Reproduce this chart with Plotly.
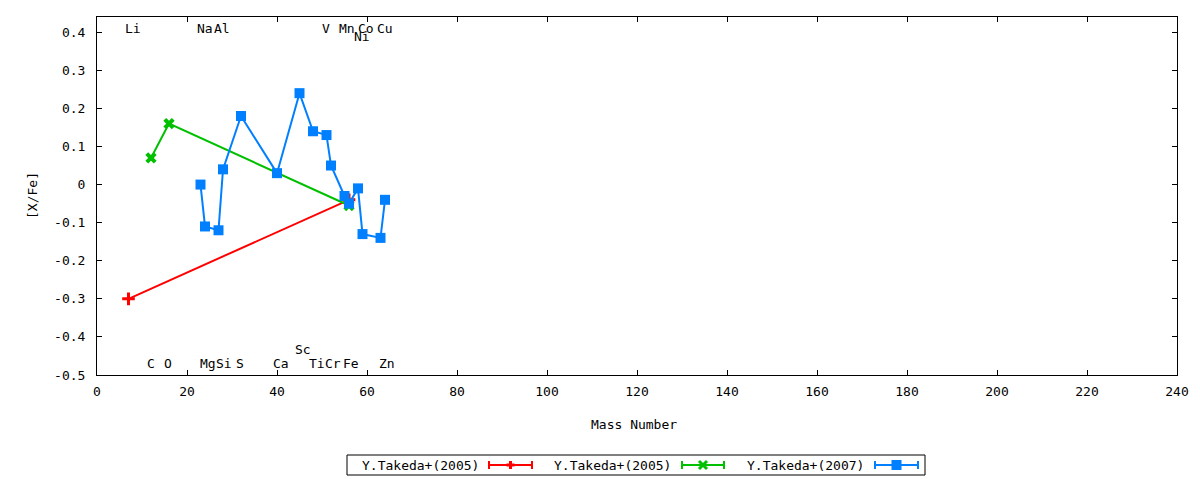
import plotly.graph_objects as go

# ---------------- data ----------------
red_mass = [7, 56]
red_xfe = [-0.30, -0.04]

green_mass = [12, 16, 56]
green_xfe = [0.07, 0.16, -0.055]

blue_mass = [23, 24, 27, 28, 32, 40, 45, 48, 51, 52, 55, 56, 58, 59, 63, 64]
blue_xfe = [0.00, -0.11, -0.12, 0.04, 0.18, 0.03, 0.24, 0.14, 0.13, 0.05,
            -0.03, -0.05, -0.01, -0.13, -0.14, -0.04]

series_names = ["Y.Takeda+(2005)", "Y.Takeda+(2005)", "Y.Takeda+(2007)"]

label_text = ["Li", "Na", "Al", "V", "Mn", "Co", "Cu", "Ni",
              "C", "O", "Mg", "Si", "S", "Ca", "Sc", "Ti", "Cr", "Fe", "Zn"]
label_x = [8.0, 23.9, 27.8, 50.8, 55.5, 59.8, 64.0, 58.9,
           12.0, 15.8, 24.6, 28.2, 31.8, 40.8, 45.7, 48.9, 52.4, 56.4, 64.5]
label_y = [0.41, 0.41, 0.41, 0.41, 0.41, 0.41, 0.41, 0.388,
           -0.471, -0.471, -0.471, -0.471, -0.471, -0.471, -0.434, -0.471, -0.471, -0.471, -0.471]

x_ticks = list(range(0, 241, 20))
x_ticktext = [str(v) for v in x_ticks]
y_ticks = [-0.5, -0.4, -0.3, -0.2, -0.1, 0, 0.1, 0.2, 0.3, 0.4]
y_ticktext = ["-0.5", "-0.4", "-0.3", "-0.2", "-0.1", "0", "0.1", "0.2", "0.3", "0.4"]

# ---------------- style ----------------
FONT = "DejaVu Sans Mono"
RED, GREEN, BLUE = "#ff0000", "#00c000", "#0080ff"
W, H = 1200, 480
L, R, T, B = 97, 23, 17, 105
PW, PH = W - L - R, H - T - B

fig = go.Figure()
fig.add_trace(go.Scatter(x=red_mass, y=red_xfe, mode="lines+markers", name=series_names[0],
                         line=dict(color=RED, width=2),
                         marker=dict(symbol="cross-thin", size=9, line=dict(color=RED, width=3))))
fig.add_trace(go.Scatter(x=green_mass, y=green_xfe, mode="lines+markers", name=series_names[1],
                         line=dict(color=GREEN, width=2),
                         marker=dict(symbol="x", size=10, color=GREEN)))
fig.add_trace(go.Scatter(x=blue_mass, y=blue_xfe, mode="lines+markers", name=series_names[2],
                         line=dict(color=BLUE, width=2),
                         marker=dict(symbol="square", size=10, color=BLUE)))

annotations = []
for t, x, y in zip(label_text, label_x, label_y):
    annotations.append(dict(x=x, y=y, xref="x", yref="y", text=t, showarrow=False,
                            font=dict(family=FONT, size=13, color="black"),
                            xanchor="center", yanchor="middle"))


def px(xp):
    return (xp - L) / PW


def py(yp):
    return (H - B - yp) / PH


# axis titles
annotations.append(dict(x=px(32), y=py(196), xref="paper", yref="paper", text="[X/Fe]",
                        showarrow=False, textangle=-90, font=dict(family=FONT, size=13, color="black"),
                        xanchor="center", yanchor="middle"))
annotations.append(dict(x=px(634), y=py(425), xref="paper", yref="paper", text="Mass Number",
                        showarrow=False, font=dict(family=FONT, size=13, color="black"),
                        xanchor="center", yanchor="middle"))

shapes = []
# legend box
shapes.append(dict(type="rect", xref="paper", yref="paper", x0=px(347), x1=px(925),
                   y0=py(475), y1=py(455), line=dict(color="black", width=1), fillcolor="white"))
leg_text_right = [481, 673, 866]
leg_sample = [(489, 532), (682, 724), (875, 918)]
leg_colors = [RED, GREEN, BLUE]
leg_marker = ["plus", "x", "square"]
ly = 465
for name, tr, (s0, s1), c, m in zip(series_names, leg_text_right, leg_sample, leg_colors, leg_marker):
    annotations.append(dict(x=px(tr), y=py(ly), xref="paper", yref="paper", text=name,
                            showarrow=False, font=dict(family=FONT, size=13, color="black"),
                            xanchor="right", yanchor="middle"))
    shapes.append(dict(type="line", xref="paper", yref="paper", x0=px(s0), x1=px(s1),
                       y0=py(ly), y1=py(ly), line=dict(color=c, width=2)))
    for sx in (s0, s1):
        shapes.append(dict(type="line", xref="paper", yref="paper", x0=px(sx), x1=px(sx),
                           y0=py(ly - 4), y1=py(ly + 4), line=dict(color=c, width=2)))
    cx = (s0 + s1) / 2
    if m == "plus":
        shapes.append(dict(type="line", xref="paper", yref="paper", x0=px(cx - 4), x1=px(cx + 4),
                           y0=py(ly), y1=py(ly), line=dict(color=c, width=3)))
        shapes.append(dict(type="line", xref="paper", yref="paper", x0=px(cx), x1=px(cx),
                           y0=py(ly - 4), y1=py(ly + 4), line=dict(color=c, width=3)))
    elif m == "x":
        shapes.append(dict(type="line", xref="paper", yref="paper", x0=px(cx - 4), x1=px(cx + 4),
                           y0=py(ly - 4), y1=py(ly + 4), line=dict(color=c, width=3)))
        shapes.append(dict(type="line", xref="paper", yref="paper", x0=px(cx - 4), x1=px(cx + 4),
                           y0=py(ly + 4), y1=py(ly - 4), line=dict(color=c, width=3)))
    else:
        shapes.append(dict(type="rect", xref="paper", yref="paper", x0=px(cx - 5), x1=px(cx + 5),
                           y0=py(ly + 5), y1=py(ly - 5), line=dict(color=c, width=0), fillcolor=c))

axis_common = dict(showgrid=False, zeroline=False, showline=True, linecolor="black", linewidth=1,
                   mirror="ticks", ticks="inside", ticklen=5, tickcolor="black", tickwidth=1,
                   tickfont=dict(family=FONT, size=13, color="black"))

fig.update_layout(
    width=W, height=H,
    margin=dict(l=L, r=R, t=T, b=B, autoexpand=False),
    paper_bgcolor="white", plot_bgcolor="white",
    showlegend=False,
    xaxis=dict(range=[0, 240], tickmode="array", tickvals=x_ticks, ticktext=x_ticktext,
               ticklabelstandoff=4, **axis_common),
    yaxis=dict(range=[-0.5, 0.44], tickmode="array", tickvals=y_ticks, ticktext=y_ticktext,
               ticklabelstandoff=8, **axis_common),
    annotations=annotations,
    shapes=shapes,
    font=dict(family=FONT, size=13, color="black"),
)

fig.write_html(
    "out.html",
    config={"displayModeBar": False},
    post_script="document.body.style.margin='0';document.body.style.padding='0';"
                "document.body.style.overflow='hidden';",
)
